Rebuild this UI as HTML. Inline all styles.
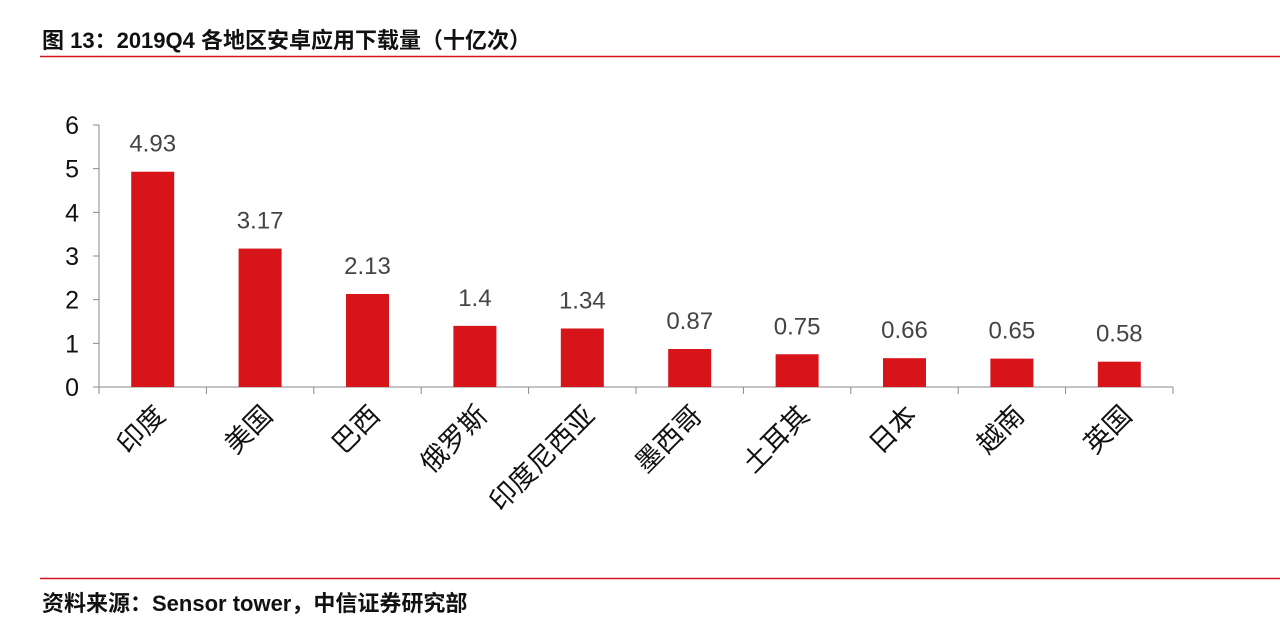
<!DOCTYPE html>
<html><head><meta charset="utf-8"><style>
body{margin:0;background:#fff;width:1280px;height:642px;overflow:hidden;font-family:"Liberation Sans","Noto Sans CJK SC",sans-serif;}
</style></head><body>
<svg width="1280" height="642" style="position:absolute;left:0;top:0">
<text x="42" y="48" font-size="22" font-weight="bold" fill="#111" font-family="Liberation Sans, Noto Sans CJK SC, sans-serif">图 13：2019Q4 各地区安卓应用下载量（十亿次）</text>
<line x1="40" y1="56.5" x2="1280" y2="56.5" stroke="#d7141a" stroke-width="1.5"/>
<g id="plot"></g>
<line x1="40" y1="578.5" x2="1280" y2="578.5" stroke="#d7141a" stroke-width="1.5"/>
<text x="42" y="611" font-size="22" font-weight="bold" fill="#111" font-family="Liberation Sans, Noto Sans CJK SC, sans-serif">资料来源：Sensor tower，中信证券研究部</text>
</svg>
<script>
const categories=["印度","美国","巴西","俄罗斯","印度尼西亚","墨西哥","土耳其","日本","越南","英国"];
const values=[4.93,3.17,2.13,1.4,1.34,0.87,0.75,0.66,0.65,0.58];
const valueLabels=["4.93","3.17","2.13","1.4","1.34","0.87","0.75","0.66","0.65","0.58"];
const yTicks=[0,1,2,3,4,5,6];
const NS="http://www.w3.org/2000/svg";
const g=document.getElementById('plot');
const x0=99,x1=1173,yBase=387,yTop=125,yMax=6;
const band=(x1-x0)/categories.length;
const y=v=>yBase-(v/yMax)*(yBase-yTop);
function mk(t,a,txt){const e=document.createElementNS(NS,t);for(const k in a)e.setAttribute(k,a[k]);if(txt!=null)e.textContent=txt;g.appendChild(e);return e;}
const ya=mk('line',{x1:x0,y1:yTop,x2:x0,y2:yBase,stroke:'#888','stroke-width':1});


yTicks.forEach(t=>{
 const l=mk('line',{x1:x0-6,y1:y(t),x2:x0,y2:y(t),stroke:'#888'});
 
 
 const tx=mk('text',{x:x0-20,y:y(t)+9,'font-size':25,'text-anchor':'end',fill:'#111'},String(t));
 
 
});
const xa=mk('line',{x1:x0,y1:yBase,x2:x1,y2:yBase,stroke:'#888'});


for(let i=0;i<=categories.length;i++){
 const l=mk('line',{x1:x0+i*band,y1:yBase,x2:x0+i*band,y2:yBase+7,stroke:'#888'});
 
 
}
categories.forEach((c,i)=>{
 const cx=x0+band*(i+0.5),w=43;
 const r=mk('rect',{x:cx-w/2,y:y(values[i]),width:w,height:yBase-y(values[i]),fill:'#d7141a'});
 
 
 const v=mk('text',{x:cx,y:y(values[i])-20,'font-size':24,'text-anchor':'middle',fill:'#444'},valueLabels[i]);
 
 
 const ax=cx+14,ay=yBase+30;
 const lb=mk('text',{x:ax,y:ay,'font-size':27,'text-anchor':'end',fill:'#111',transform:`rotate(-45 ${ax} ${ay})`},c);
 
 
});
</script>
</body></html>
